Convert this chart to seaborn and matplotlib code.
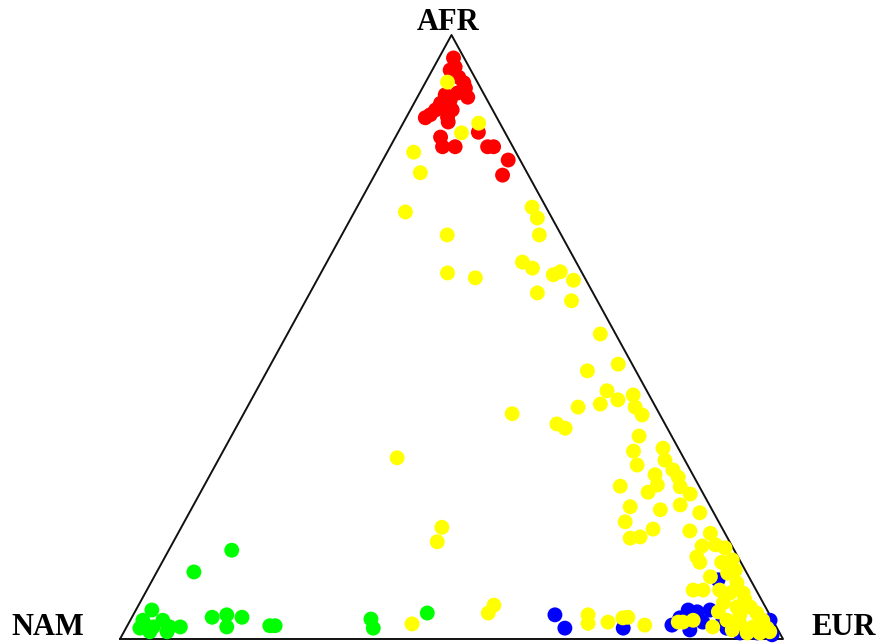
import pandas as pd
import matplotlib.pyplot as plt
import seaborn as sns

sns.set_style('white')
plt.rcParams['font.family'] = ['Liberation Serif', 'DejaVu Serif']

# Ternary proportions (%): AFR and EUR, NAM = 100 - AFR - EUR
red_afr = [96.2, 94.7, 93.0, 92.1, 89.7, 90.4, 89.2, 88.7, 87.6, 86.3,
           86.4, 85.6, 83.1, 81.5, 81.5, 83.9, 81.5, 81.5, 79.3, 76.8,
           94.2, 90.6, 90.1, 87.9, 87.6, 91.2, 86.8]
red_eur = [2.2, 3.2, 4.6, 5.8, 7.6, 5.7, 5.2, 4.0, 3.8, 2.9,
           6.2, 6.7, 6.8, 7.9, 9.8, 12.1, 14.7, 15.6, 18.9, 19.3,
           2.7, 6.3, 4.0, 4.1, 6.3, 6.5, 3.4]

blue_afr = [4.0, 1.8, 1.8, 2.3, 4.8, 4.5, 4.8, 1.5, 2.8, 9.8,
            1.8, 1.0, 1.0, 0.7, 3.1, 3.1, 3.5]
blue_eur = [63.6, 66.2, 75.0, 82.1, 83.3, 84.8, 86.6, 85.2, 86.5, 85.3,
            90.6, 93.0, 95.6, 98.0, 96.5, 89.4, 82.7]

green_afr = [14.7, 11.1, 4.8, 3.1, 1.8, 2.0, 3.1, 2.0, 2.0, 1.2,
             1.2, 3.6, 4.0, 2.0, 3.6, 2.2, 2.2, 3.3, 1.8, 4.3]
green_eur = [9.5, 5.6, 2.4, 1.9, 2.1, 4.0, 4.9, 6.5, 8.1, 6.5,
             3.9, 12.1, 14.1, 15.1, 16.6, 21.5, 22.3, 36.2, 37.3, 44.2]

yellow_afr = [92.2, 85.4, 83.8, 80.6, 77.2, 70.7, 66.9, 60.6, 59.8, 71.5,
              69.7, 66.9, 62.4, 61.4, 60.3, 60.8, 59.4, 57.3, 56.0, 50.5,
              44.4, 45.5, 41.1, 38.9, 39.6, 40.4, 38.4, 37.1, 38.4, 35.6,
              34.9, 37.3, 30.0, 18.5, 16.1, 2.5, 5.6, 4.3, 33.6, 31.1,
              28.8, 31.6, 29.6, 28.0, 27.2, 25.5, 26.8, 25.2, 25.3, 24.3,
              24.0, 21.9, 19.4, 21.4, 22.2, 20.9, 18.2, 16.9, 16.7, 17.9,
              17.5, 15.4, 13.6, 15.6, 12.7, 10.3, 8.1, 8.1, 12.7, 13.1,
              10.9, 9.3, 7.6, 7.6, 6.0, 5.3, 5.3, 4.3, 3.1, 3.1,
              2.6, 2.0, 1.8, 2.0, 1.5, 2.8, 3.1, 1.0, 1.0, 1.2,
              4.0, 2.6, 2.8, 3.5, 3.6, 2.3, 2.8, 12.6, 6.5, 8.1,
              11.4, 4.0, 4.5, 15.1]
yellow_eur = [3.3, 11.4, 9.6, 4.0, 6.7, 7.7, 15.9, 19.1, 23.7, 26.4,
              28.1, 29.8, 29.5, 31.5, 35.2, 36.0, 38.7, 34.3, 40.1, 47.2,
              48.3, 52.4, 52.9, 53.0, 55.3, 57.2, 58.5, 60.2, 49.9, 48.1,
              49.7, 40.5, 26.8, 39.3, 39.8, 42.8, 53.6, 53.4, 61.5, 61.9,
              63.6, 66.1, 67.4, 69.4, 67.1, 68.3, 70.8, 71.9, 62.8, 67.5,
              74.0, 66.0, 66.5, 70.8, 73.4, 77.0, 71.3, 70.0, 68.6, 77.0,
              80.3, 80.1, 80.2, 82.0, 81.1, 83.9, 82.4, 83.9, 84.4, 85.8,
              86.2, 88.4, 90.2, 88.2, 88.0, 90.4, 92.4, 93.9, 95.4, 90.0,
              92.2, 94.5, 96.7, 88.4, 91.6, 83.5, 84.9, 94.1, 96.0, 97.4,
              68.6, 69.3, 72.2, 74.1, 74.8, 78.0, 82.8, 84.7, 91.0, 86.4,
              87.1, 91.5, 88.0, 83.7]

colors = {'AFR': '#ff0000', 'EUR': '#0000ff', 'NAM': '#00ff00', 'ADMIX': '#ffff00'}

# build one table, drawing order: red, blue, green, yellow on top
frames = []
for name, afr, eur in [('AFR', red_afr, red_eur), ('EUR', blue_afr, blue_eur),
                       ('NAM', green_afr, green_eur), ('ADMIX', yellow_afr, yellow_eur)]:
    frames.append(pd.DataFrame({'AFR': afr, 'EUR': eur, 'group': name}))
df = pd.concat(frames, ignore_index=True)
df['NAM'] = 100 - df['AFR'] - df['EUR']

# ternary -> cartesian (NAM bottom-left, EUR bottom-right, AFR top)
df['x'] = df['EUR'] / 100 + df['AFR'] / 200
df['y'] = df['AFR'] / 100

fig = plt.figure(figsize=(8.79, 6.44), dpi=100)
ax = fig.add_axes([120 / 879, 5 / 644, 663 / 879, 604 / 644])

ax.plot([0, 1, 0.5, 0], [0, 0, 1, 0], color='#111111', lw=1.4, clip_on=False, zorder=1)

sns.scatterplot(data=df, x='x', y='y', hue='group', palette=colors, s=115,
                linewidth=0, alpha=1, legend=False, ax=ax, zorder=2, clip_on=False)

ax.set_xlim(0, 1)
ax.set_ylim(0, 1)
ax.set_axis_off()

for label, px, py in [('AFR', 448, 30), ('NAM', 48, 635), ('EUR', 844, 635)]:
    fig.text(px / 879, 1 - py / 644, label, ha='center', va='baseline',
             fontsize=22, fontweight='bold', color='black')

fig.savefig('out.png', dpi=100)
plt.close(fig)
